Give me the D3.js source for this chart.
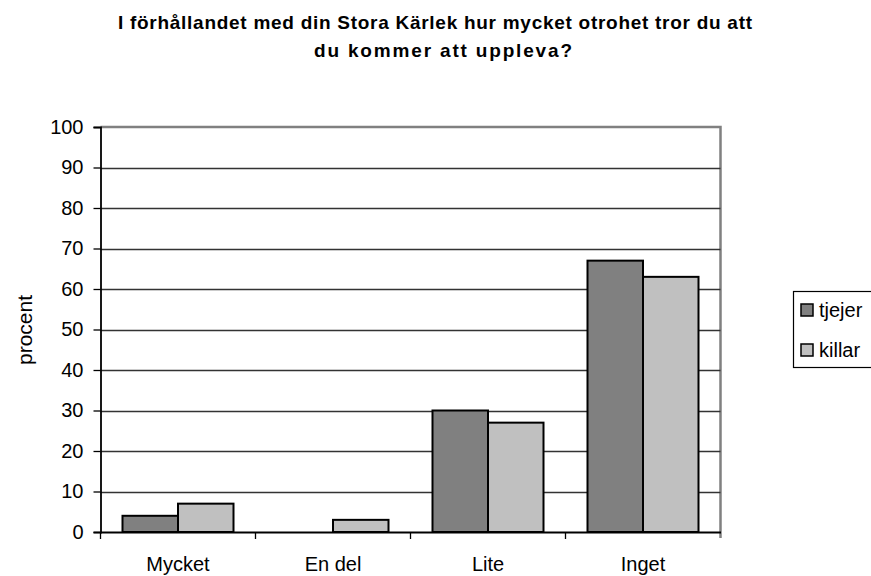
<!DOCTYPE html>
<html lang="sv">
<head>
<meta charset="utf-8">
<script src="https://d3js.org/d3.v7.min.js"></script>
<style type="text/css">
body {
	margin: 0;
	background: white;
	font-family: "Liberation Sans", Arial, sans-serif;
}
</style>
</head>
<body>
<svg id="chart"></svg>
<script type="text/javascript">

// chart data
var categories = ["Mycket", "En del", "Lite", "Inget"];
var seriesNames = ["tjejer", "killar"];
var tjejer = [4, 0, 30, 67];
var killar = [7, 3, 27, 63];
var yTicks = [0, 10, 20, 30, 40, 50, 60, 70, 80, 90, 100];
var titleLines = ["I förhållandet med din Stora Kärlek hur mycket otrohet tror du att",
                  "du kommer att uppleva?"];
var colors = ["#808080", "#c0c0c0"];

var width = 871, height = 576;
var plot = {left: 100.5, right: 720.5, top: 127, bottom: 532};
var fontFam = "'Liberation Sans', Arial, sans-serif";

var svg = d3.select("#chart")
	.attr("width", width)
	.attr("height", height);

// scales
var x = d3.scaleBand()
	.domain(categories)
	.range([plot.left, plot.right])
	.paddingInner(0)
	.paddingOuter(0);

var x1 = d3.scaleBand()
	.domain(seriesNames)
	.range([22, x.bandwidth() - 22]);

var y = d3.scaleLinear()
	.domain([0, 100])
	.range([plot.bottom, plot.top]);

// title (spread like the original rendering)
var titleLen = [634, 258];
svg.append("g").selectAll("text")
	.data(titleLines)
	.join("text")
	.attr("x", function(d, i) { return i == 0 ? 435 : 443; })
	.attr("y", function(d, i) { return 29 + i * 28; })
	.attr("text-anchor", "middle")
	.attr("textLength", function(d, i) { return titleLen[i]; })
	.attr("lengthAdjust", "spacing")
	.style("font-weight", "bold")
	.style("font-size", "19px")
	.text(function(d) { return d; });

// plot frame (top and right, gray)
svg.append("path")
	.attr("d", "M" + plot.left + "," + plot.top + "H" + plot.right + "V" + (plot.bottom + 6))
	.attr("fill", "none")
	.attr("stroke", "#808080")
	.attr("stroke-width", 2.5);

// gridlines
svg.append("g").selectAll("line")
	.data(yTicks.filter(function(d) { return d > 0 && d < 100; }))
	.join("line")
	.attr("x1", plot.left)
	.attr("x2", plot.right)
	.attr("y1", function(d) { return Math.round(y(d)) + 0.5; })
	.attr("y2", function(d) { return Math.round(y(d)) + 0.5; })
	.attr("stroke", "#333")
	.attr("stroke-width", 1.5);

// bars
var rows = categories.map(function(c, i) {
	return {cat: c, values: [tjejer[i], killar[i]]};
});

var groups = svg.append("g").selectAll("g")
	.data(rows)
	.join("g")
	.attr("transform", function(d) { return "translate(" + x(d.cat) + ",0)"; });

groups.selectAll("rect")
	.data(function(d) {
		return d.values.map(function(v, j) { return {name: seriesNames[j], value: v, j: j}; })
			.filter(function(e) { return e.value > 0; });
	})
	.join("rect")
	.attr("x", function(d) { return x1(d.name); })
	.attr("width", x1.bandwidth())
	.attr("y", function(d) { return y(d.value); })
	.attr("height", function(d) { return plot.bottom - y(d.value); })
	.attr("fill", function(d) { return colors[d.j]; })
	.attr("stroke", "black")
	.attr("stroke-width", 2);

// y axis
var yAxis = d3.axisLeft(y)
	.tickValues(yTicks)
	.tickSize(7)
	.tickPadding(10);

var gy = svg.append("g")
	.attr("transform", "translate(" + plot.left + ",0)")
	.call(yAxis);
gy.select(".domain").attr("stroke", "black").attr("stroke-width", 1.8);
gy.selectAll(".tick line").attr("stroke", "black").attr("stroke-width", 1.3);
gy.selectAll(".tick text")
	.style("font-family", fontFam)
	.style("font-size", "20px")
	.attr("fill", "black");

// x axis
var xAxis = d3.axisBottom(x)
	.tickSize(0)
	.tickPadding(25);

var gx = svg.append("g")
	.attr("transform", "translate(0," + plot.bottom + ")")
	.call(xAxis);
gx.select(".domain").attr("stroke", "black").attr("stroke-width", 1.8);
gx.selectAll(".tick text")
	.style("font-family", fontFam)
	.style("font-size", "20px")
	.attr("fill", "black");

// category separators below axis
svg.append("g").selectAll("line")
	.data(d3.range(categories.length))
	.join("line")
	.attr("x1", function(i) { return plot.left + i * x.bandwidth(); })
	.attr("x2", function(i) { return plot.left + i * x.bandwidth(); })
	.attr("y1", plot.bottom)
	.attr("y2", plot.bottom + 7)
	.attr("stroke", "black")
	.attr("stroke-width", 1.3);

// y axis label
svg.append("text")
	.attr("transform", "translate(32,330) rotate(-90)")
	.attr("text-anchor", "middle")
	.style("font-size", "21px")
	.text("procent");

// legend
var legend = svg.append("g").attr("transform", "translate(793,291)");
legend.append("rect")
	.attr("x", 0.5)
	.attr("y", 0.5)
	.attr("width", 100)
	.attr("height", 76)
	.attr("fill", "white")
	.attr("stroke", "black")
	.attr("stroke-width", 1.2);

var items = legend.selectAll("g.item")
	.data(seriesNames)
	.join("g")
	.attr("class", "item")
	.attr("transform", function(d, i) { return "translate(8," + (26 + i * 40) + ")"; });

items.append("rect")
	.attr("x", 0)
	.attr("y", -13)
	.attr("width", 12)
	.attr("height", 12)
	.attr("fill", function(d, i) { return colors[i]; })
	.attr("stroke", "black")
	.attr("stroke-width", 1.5);

items.append("text")
	.attr("x", 18)
	.attr("y", 0)
	.style("font-size", "20px")
	.text(function(d) { return d; });

</script>
</body>
</html>
